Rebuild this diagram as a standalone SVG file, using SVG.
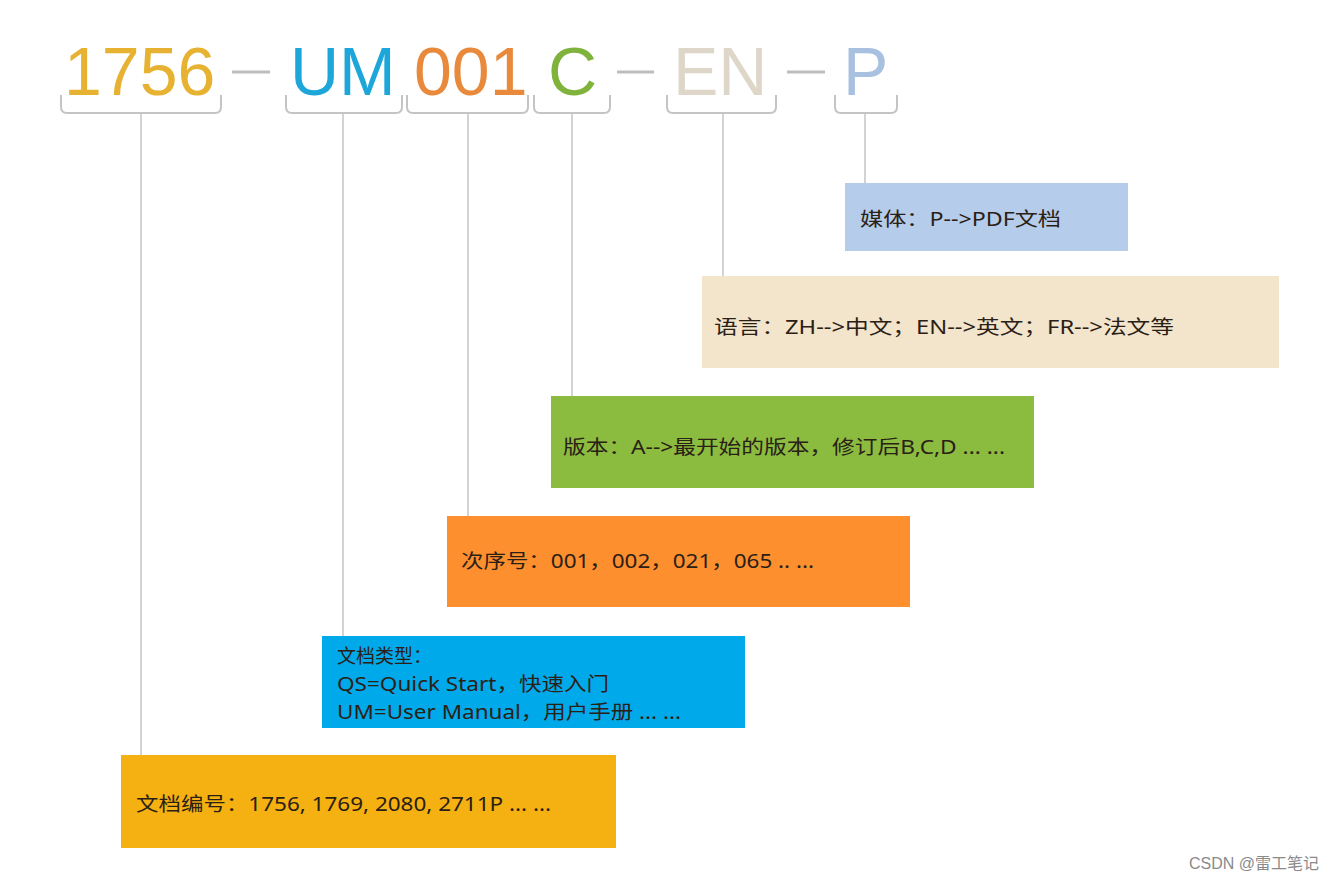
<svg xmlns="http://www.w3.org/2000/svg" width="1341" height="883" viewBox="0 0 1341 883">
<style>
.big{font-family:"Liberation Sans","Noto Sans",Arial,sans-serif;font-size:68px}
.dash{stroke:#BDBDBD;stroke-width:3}
.br{fill:none;stroke:#C4C4C4;stroke-width:2}
.ln{stroke:#C8C8C8;stroke-width:1.6;fill:none}
.t{font-family:"Noto Sans","Noto Sans CJK SC",sans-serif;font-size:19px;fill:#2A2016}
</style>
<rect width="1341" height="883" fill="#FFFFFF"/>
<g id="code">
<text class="big" x="64" y="95" fill="#E7B231">1756</text>
<line class="dash" x1="232" y1="72" x2="270" y2="72"/>
<text class="big" x="290" y="95" fill="#1CA6D9">UM</text>
<text class="big" x="414" y="95" fill="#E8893B">001</text>
<text class="big" x="548" y="95" fill="#7FB33C">C</text>
<line class="dash" x1="617" y1="72" x2="654" y2="72"/>
<text class="big" x="673" y="95" fill="#DED7C9">EN</text>
<line class="dash" x1="787" y1="72" x2="825" y2="72"/>
<text class="big" x="843" y="95" fill="#A9C1E1">P</text>
</g>
<g id="brackets">
<path class="br" d="M61 95 v12 q0 6 6 6 H215 q6 0 6 -6 v-12"/>
<path class="br" d="M286 95 v12 q0 6 6 6 H396 q6 0 6 -6 v-12"/>
<path class="br" d="M407 95 v12 q0 6 6 6 H522 q6 0 6 -6 v-12"/>
<path class="br" d="M534 95 v12 q0 6 6 6 H604 q6 0 6 -6 v-12"/>
<path class="br" d="M667 95 v12 q0 6 6 6 H770 q6 0 6 -6 v-12"/>
<path class="br" d="M835 95 v12 q0 6 6 6 H891 q6 0 6 -6 v-12"/>
</g>
<g id="connectors">
<line class="ln" x1="141" y1="113" x2="141" y2="755"/>
<line class="ln" x1="343" y1="113" x2="343" y2="636"/>
<line class="ln" x1="468" y1="113" x2="468" y2="516"/>
<line class="ln" x1="572" y1="113" x2="572" y2="396"/>
<line class="ln" x1="723" y1="113" x2="723" y2="276"/>
<line class="ln" x1="865" y1="113" x2="865" y2="183"/>
</g>
<g id="media">
<rect x="845" y="183" width="283" height="68" fill="#B5CDEA"/>
<text class="t" x="860" y="226" textLength="201" lengthAdjust="spacingAndGlyphs">媒体：P--&gt;PDF文档</text>
</g>
<g id="language">
<rect x="702" y="276" width="577" height="92" fill="#F3E4CC"/>
<text class="t" x="714" y="334" textLength="460" lengthAdjust="spacingAndGlyphs">语言：ZH--&gt;中文；EN--&gt;英文；FR--&gt;法文等</text>
</g>
<g id="version">
<rect x="551" y="396" width="483" height="92" fill="#8BBC3F"/>
<text class="t" x="563" y="454" textLength="442" lengthAdjust="spacingAndGlyphs">版本：A--&gt;最开始的版本，修订后B,C,D ... ...</text>
</g>
<g id="order">
<rect x="447" y="516" width="463" height="91" fill="#FD8F2F"/>
<text class="t" x="461" y="568" textLength="353" lengthAdjust="spacingAndGlyphs">次序号：001，002，021，065 .. ...</text>
</g>
<g id="doctype">
<rect x="322" y="636" width="423" height="92" fill="#00A9E9"/>
<text class="t" x="337" y="663">文档类型：</text>
<text class="t" x="337" y="691" textLength="272" lengthAdjust="spacingAndGlyphs">QS=Quick Start，快速入门</text>
<text class="t" x="337" y="719" textLength="344" lengthAdjust="spacingAndGlyphs">UM=User Manual，用户手册 ... ...</text>
</g>
<g id="docnum">
<rect x="121" y="755" width="495" height="93" fill="#F5B112"/>
<text class="t" x="136" y="811" textLength="415" lengthAdjust="spacingAndGlyphs">文档编号：1756, 1769, 2080, 2711P ... ...</text>
</g>
<text x="1189" y="869" font-family="Liberation Sans,'Noto Sans CJK SC',sans-serif" font-size="16" fill="#8A8A8A">CSDN @雷工笔记</text>
</svg>
